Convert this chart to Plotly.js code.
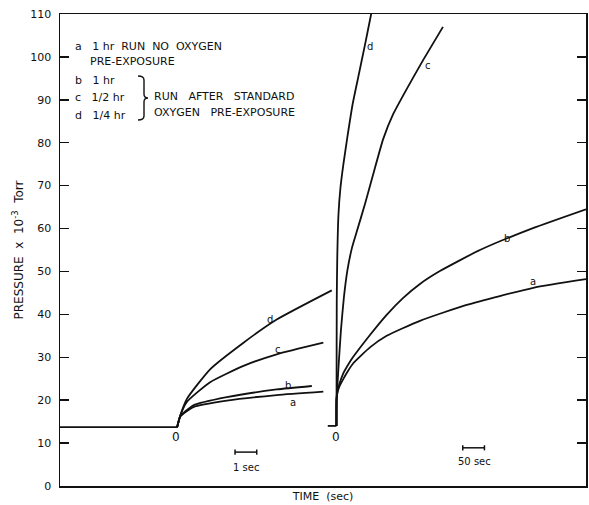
<!DOCTYPE html>
<html>
<head>
<meta charset="utf-8">
<script src="https://cdn.plot.ly/plotly-3.0.1.min.js"></script>
<style>
html,body{margin:0;padding:0;background:#fff;}
#chart{width:589px;height:505px;}
</style>
</head>
<body>
<div id="chart"></div>
<script>
// ---- Left panel (time in seconds, 1 sec scale) ----
const baseLeftT = [-5.4, 0];
const baseLeftP = [13.7, 13.7];
const leftT_a = [0, 0.15, 0.75, 2.29, 4.59, 6.74];
const leftP_a = [13.7, 16.2, 18.4, 19.9, 21.2, 22.0];
const leftT_b = [0, 0.15, 0.75, 2.29, 4.59, 6.21];
const leftP_b = [13.7, 16.3, 18.8, 20.7, 22.5, 23.3];
const leftT_c = [0, 0.15, 0.45, 1.52, 3.06, 4.59, 6.74];
const leftP_c = [13.7, 16.5, 19.6, 24.2, 28.0, 30.7, 33.4];
const leftT_d = [0, 0.15, 0.45, 1.52, 3.06, 4.59, 7.13];
const leftP_d = [13.7, 16.5, 20.3, 27.2, 33.4, 38.8, 45.6];

// ---- Right panel (time in seconds, 50 sec scale) ----
const baseRightT = [-20, 0];
const baseRightP = [14, 14];
const rightT_a = [0, 0.2, 2.3, 6.9, 15.0, 26.5, 38.7, 77.2, 115.7, 192.4, 300, 453.5, 575];
const rightP_a = [14, 20.0, 21.8, 23.2, 24.8, 26.8, 28.6, 32.3, 35.0, 38.5, 42.2, 46.2, 48.2];
const rightT_b = [0, 0.2, 2.3, 6.9, 15.0, 26.5, 38.7, 77.2, 115.7, 153.2, 192.4, 238.4, 330.6, 452.8, 575];
const rightP_b = [14, 20.0, 22.0, 23.8, 26.1, 28.2, 30.1, 35.2, 39.9, 43.8, 47.1, 50.1, 55.0, 60.1, 64.5];
const rightT_c = [0, 0.2, 1.15, 4.6, 10.4, 17.3, 25.3, 35.7, 46.5, 65.7, 84.8, 107.8, 130.9, 161.8, 200, 245.4];
const rightP_c = [14, 20.0, 21.7, 27.5, 36.4, 44.1, 50.3, 55.5, 59.2, 65.7, 72.7, 80.9, 86.7, 92.5, 99.3, 107.0];
const rightT_d = [0, 0.23, 0.7, 1.8, 4.6, 9.2, 15.7, 25.3, 36.9, 50.2, 65.7, 77.2, 80.6];
const rightP_d = [14, 20.0, 43.4, 52.7, 63.2, 69.5, 74.8, 81.4, 88.8, 95.3, 102.8, 108.6, 110.3];

const yTicks = [0, 10, 20, 30, 40, 50, 60, 70, 80, 90, 100, 110];

const FONT = "DejaVu Sans, Liberation Sans, sans-serif";
const INK = "#111";
const lw = 1.8;

function tr(x, y, axis) {
  return {x: x, y: y, xaxis: axis, yaxis: 'y', type: 'scatter', mode: 'lines',
          line: {color: INK, width: lw, shape: 'spline', smoothing: 0.5},
          hoverinfo: 'skip', showlegend: false};
}

const data = [
  tr(baseLeftT, baseLeftP, 'x'),
  tr(leftT_a, leftP_a, 'x'),
  tr(leftT_b, leftP_b, 'x'),
  tr(leftT_c, leftP_c, 'x'),
  tr(leftT_d, leftP_d, 'x'),
  tr(baseRightT, baseRightP, 'x2'),
  tr(rightT_a, rightP_a, 'x2'),
  tr(rightT_b, rightP_b, 'x2'),
  tr(rightT_c, rightP_c, 'x2'),
  tr(rightT_d, rightP_d, 'x2')
];

// pixel -> paper helpers for free text (plot area: x 60..586, y 14..486)
const PX = x => (x - 60) / 526;
const PY = y => (486 - y) / 472;

function note(text, x, y, xref, yref, size, anchor) {
  return {text: text, x: x, y: y, xref: xref, yref: yref, showarrow: false,
          xanchor: anchor || 'center', yanchor: 'middle',
          font: {family: FONT, size: size || 10, color: INK}};
}
const SP = '&nbsp;&nbsp;';
const SP3 = '&nbsp;&nbsp;&nbsp;';

const annotations = [
  // legend block
  note('a' + SP3 + '1 hr' + SP + 'RUN' + SP + 'NO' + SP + 'OXYGEN', PX(73), PY(46), 'paper', 'paper', 11, 'left'),
  note('PRE-EXPOSURE', PX(88), PY(62), 'paper', 'paper', 11, 'left'),
  note('b' + SP3 + '1 hr', PX(73), PY(81), 'paper', 'paper', 11, 'left'),
  note('c' + SP3 + '1/2 hr', PX(73), PY(98), 'paper', 'paper', 11, 'left'),
  note('d' + SP3 + '1/4 hr', PX(73), PY(115), 'paper', 'paper', 11, 'left'),
  note('RUN' + SP3 + 'AFTER' + SP3 + 'STANDARD', PX(152), PY(97), 'paper', 'paper', 11, 'left'),
  note('OXYGEN' + SP3 + 'PRE-EXPOSURE', PX(152), PY(112), 'paper', 'paper', 11, 'left'),
  // curve labels left
  note('d', 4.29, 38.9, 'x', 'y', 10),
  note('c', 4.67, 31.7, 'x', 'y', 10),
  note('b', 5.13, 23.5, 'x', 'y', 10),
  note('a', 5.36, 19.4, 'x', 'y', 10),
  // curve labels right
  note('d', 77, 102.4, 'x2', 'y', 10),
  note('c', 211.5, 98.1, 'x2', 'y', 10),
  note('b', 392, 57.7, 'x2', 'y', 10),
  note('a', 453, 47.6, 'x2', 'y', 10),
  // zero marks
  note('0', -0.05, 11.4, 'x', 'y', 12),
  note('0', 0, 11.4, 'x2', 'y', 12),
  // scale bar labels
  note('1 sec', 3.17, 4.2, 'x', 'y', 10),
  note('50 sec', 318, 5.8, 'x2', 'y', 10)
];

function seg(x0, y0, x1, y1, xref) {
  return {type: 'line', xref: xref, yref: 'y', x0: x0, y0: y0, x1: x1, y1: y1,
          line: {color: INK, width: 1.5}};
}

// brace path in paper coords
const bx0 = PX(138), bx1 = PX(144), bx2 = PX(148);
const by0 = PY(76), by1 = PY(98), by2 = PY(120);
const br = (a, b) => a + ' ' + b;
const bracePath = 'M ' + br(bx0, by0) +
  ' Q ' + br(bx1, by0) + ' ' + br(bx1, PY(80)) +
  ' L ' + br(bx1, PY(94)) +
  ' Q ' + br(bx1, by1) + ' ' + br(bx2, by1) +
  ' Q ' + br(bx1, by1) + ' ' + br(bx1, PY(102)) +
  ' L ' + br(bx1, PY(116)) +
  ' Q ' + br(bx1, by2) + ' ' + br(bx0, by2);

const shapes = [
  // 1 sec scale bar
  seg(2.67, 7.9, 3.67, 7.9, 'x'),
  seg(2.67, 7.3, 2.67, 8.5, 'x'),
  seg(3.67, 7.3, 3.67, 8.5, 'x'),
  // 50 sec scale bar
  seg(291, 8.9, 341, 8.9, 'x2'),
  seg(291, 8.3, 291, 9.5, 'x2'),
  seg(341, 8.3, 341, 9.5, 'x2'),
  {type: 'path', xref: 'paper', yref: 'paper', path: bracePath,
   line: {color: INK, width: 1.4}}
];

const layout = {
  width: 589, height: 505,
  margin: {l: 60, r: 3, t: 14, b: 19, pad: 0},
  paper_bgcolor: '#fff', plot_bgcolor: '#fff',
  font: {family: FONT, color: INK, size: 10},
  showlegend: false,
  xaxis: {
    domain: [0, 1], range: [-5.4, 18.85],
    showticklabels: false, ticks: '', showgrid: false, zeroline: false,
    showline: true, mirror: true, linecolor: INK, linewidth: 1.5,
    title: {text: 'TIME' + SP + '(sec)', standoff: 6, font: {family: FONT, size: 11, color: INK}}
  },
  xaxis2: {
    overlaying: 'x', range: [-637, 575], visible: false
  },
  yaxis: {
    range: [0, 110], tickvals: yTicks, ticktext: yTicks.map(String),
    ticks: 'inside', ticklen: 9, tickwidth: 1.5, tickcolor: INK,
    ticklabelstandoff: 5,
    mirror: 'ticks', showline: true, linecolor: INK, linewidth: 1.5,
    showgrid: false, zeroline: false,
    tickfont: {family: FONT, size: 11, color: INK},
    title: {text: 'PRESSURE' + SP + 'x' + SP + '10<sup>-3</sup>' + SP + 'Torr', standoff: 4,
            font: {family: FONT, size: 12, color: INK}}
  },
  annotations: annotations,
  shapes: shapes
};

Plotly.newPlot('chart', data, layout, {displayModeBar: false, staticPlot: true});
</script>
</body>
</html>
